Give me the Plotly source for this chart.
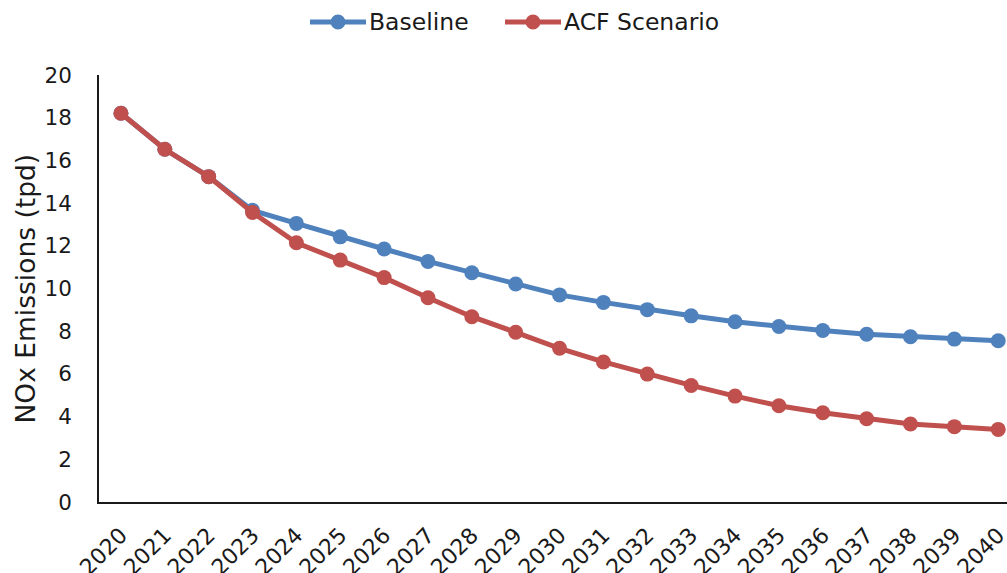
import plotly.graph_objects as go

years = list(range(2020, 2041))
baseline = [18.21, 16.52, 15.24, 13.66, 13.05, 12.42, 11.85, 11.27, 10.74, 10.21,
            9.70, 9.35, 9.01, 8.72, 8.44, 8.22, 8.03, 7.86, 7.74, 7.63, 7.55]
acf = [18.21, 16.52, 15.24, 13.56, 12.14, 11.33, 10.51, 9.57, 8.68, 7.95,
       7.20, 6.56, 5.99, 5.46, 4.96, 4.51, 4.18, 3.90, 3.65, 3.53, 3.40]
y_ticks = [0, 2, 4, 6, 8, 10, 12, 14, 16, 18, 20]

series = [("Baseline", baseline, "#4F81BD"), ("ACF Scenario", acf, "#C0504D")]

font_family = "DejaVu Sans, Verdana, sans-serif"
W, H = 1007, 573
M_L, M_R, M_T, M_B = 99, 0, 75, 71
plot_w = W - M_L - M_R
plot_h = H - M_T - M_B

fig = go.Figure()
for name, vals, color in series:
    fig.add_trace(go.Scatter(
        x=years, y=vals, name=name, mode="lines+markers",
        line=dict(color=color, width=5), marker=dict(size=15, color=color),
        cliponaxis=False, showlegend=False,
    ))


def px_x(p):
    return (p - M_L) / plot_w


def px_y(p):
    return (H - M_B - p) / plot_h


# Legend drawn above the plot: long line sample with a dot, then the label
legend_y = px_y(22)
legend_starts = [310, 505]
for (name, _, color), x0 in zip(series, legend_starts):
    fig.add_shape(type="line", xref="paper", yref="paper",
                  x0=px_x(x0), x1=px_x(x0 + 56), y0=legend_y, y1=legend_y,
                  line=dict(color=color, width=5))
    fig.add_shape(type="circle", xref="paper", yref="paper",
                  xsizemode="pixel", ysizemode="pixel",
                  xanchor=px_x(x0 + 28), yanchor=legend_y,
                  x0=-7.5, x1=7.5, y0=-7.5, y1=7.5,
                  fillcolor=color, line=dict(color=color, width=0))
    fig.add_annotation(x=px_x(x0 + 57), y=legend_y, xref="paper", yref="paper",
                       text=name, showarrow=False, xanchor="left", yanchor="middle",
                       font=dict(size=23.5, color="#1a1a1a", family=font_family))

# Vertical axis title placed at a fixed spot left of the tick labels
fig.add_annotation(x=px_x(25), y=0.5, xref="paper", yref="paper",
                   text="NOx Emissions (tpd)", textangle=-90, showarrow=False,
                   xanchor="center", yanchor="middle",
                   font=dict(size=26.5, color="#1a1a1a", family=font_family))

fig.update_layout(
    width=W, height=H,
    margin=dict(l=M_L, r=M_R, t=M_T, b=M_B, autoexpand=False),
    paper_bgcolor="white", plot_bgcolor="white",
    font=dict(family=font_family, color="#1a1a1a"),
    showlegend=False,
)

fig.update_xaxes(
    range=[2019.5, 2040.2], tickmode="array", tickvals=years,
    ticktext=[str(y) for y in years], tickangle=-45,
    tickfont=dict(size=22), showgrid=False, zeroline=False,
    showline=True, linecolor="#1a1a1a", linewidth=1.5, ticks="",
    ticklabeloverflow="allow", ticklabelstandoff=10, automargin=False,
)
fig.update_yaxes(
    range=[0, 20], tickmode="array", tickvals=y_ticks,
    tickfont=dict(size=21.5), showgrid=False, zeroline=False,
    showline=True, linecolor="#1a1a1a", linewidth=1.5, ticks="",
    ticklabelstandoff=21, automargin=False,
)

fig.write_html("out.html")
